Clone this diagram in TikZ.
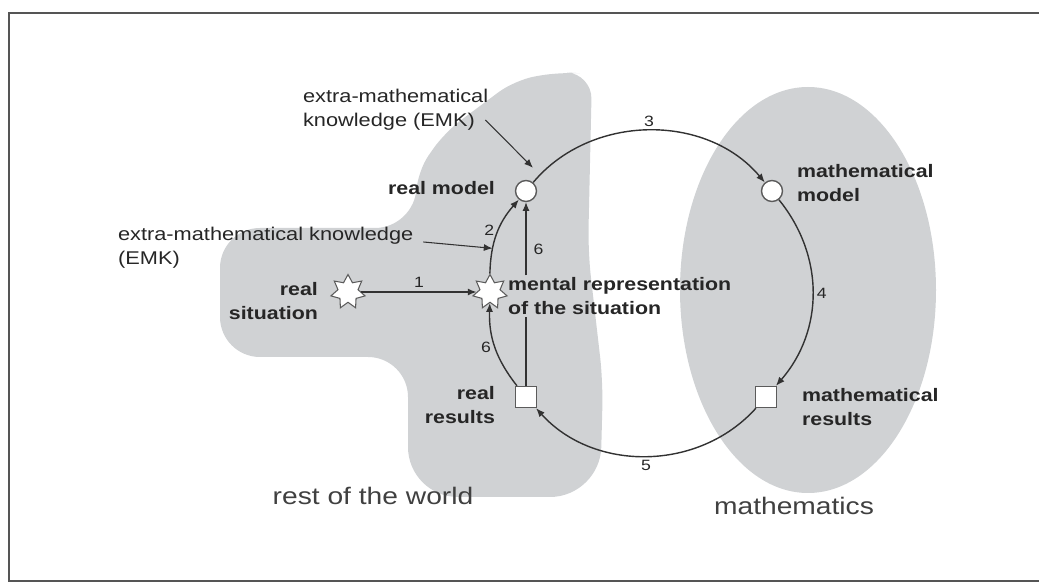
\documentclass[tikz,border=0pt]{standalone}
\usepackage{fontspec}
\setmainfont{Liberation Sans}[FakeStretch=1.18]
\usepackage{tikz}
\usetikzlibrary{shapes.geometric, arrows.meta, positioning, calc, backgrounds}
\definecolor{blobgray}{RGB}{208,210,212}
\definecolor{linegray}{RGB}{50,50,50}
\definecolor{framegray}{RGB}{85,85,85}

\begin{document}
\begin{tikzpicture}[
    x=0.02cm, y=0.02cm,
    dot/.style={circle, draw=linegray!80, fill=white, line width=0.8pt,
                minimum size=0.42cm, inner sep=0pt},
    sq/.style={rectangle, draw=linegray!80, fill=white, line width=0.8pt,
               minimum size=0.42cm, inner sep=0pt},
    burst/.style={star, star points=7, star point ratio=1.7, draw=linegray!80,
                  fill=white, line width=0.6pt, minimum size=0.7cm, inner sep=0pt},
    lab/.style={font=\bfseries\fontsize{10.3}{13.5}\selectfont, text=black!85, inner sep=1pt},
    txt/.style={font=\fontsize{10.5}{13.5}\selectfont, text=black!85, inner sep=1pt, align=left},
    big/.style={font=\fontsize{13.6}{16}\selectfont, text=black!75},
    num/.style={font=\fontsize{8.5}{10}\selectfont, text=black!85, inner sep=2pt},
    arr/.style={-{Latex[length=5pt,width=4pt]}, line width=0.8pt, draw=linegray},
    thinarr/.style={-{Latex[length=5pt,width=4pt]}, line width=0.6pt, draw=linegray},
  ]
  \useasboundingbox (0,0) rectangle (1039,582);

  %% -- frame ------------------------------------------------------------
  \draw[framegray, line width=1.6pt] (1039,569) -- (9,569) -- (9,1) -- (1039,1);

  %% -- the two regions --------------------------------------------------
  \fill[blobgray]
    (560,510) [rounded corners=0.5cm] -- (592,508) -- (588,330) -- (603,200)
    [rounded corners=1cm] -- (600,85) -- (408,85)
    [rounded corners=0.8cm] -- (408,225) -- (220,225) -- (220,354) -- (415,354)
    [rounded corners=0.4cm] -- (417,410) -- (445,450) -- (515,502) -- cycle;
  \fill[blobgray] (808,292) ellipse [x radius=128, y radius=203];

  %% -- stations of the cycle -------------------------------------------
  \node[dot]   (realmodel) at (526,391) {};
  \node[dot]   (mathmodel) at (772,391) {};
  \node[sq]    (realres)   at (526,185) {};
  \node[sq]    (mathres)   at (766,185) {};
  \node[burst] (mental)    at (490,290) {};
  \node[burst] (realsit)   at (348,290) {};

  %% -- labels -----------------------------------------------------------
  \node[lab, anchor=east] (realmodeltxt) at (497,394) {real model};
  \node[lab, anchor=east, align=right] (realsittxt) at (320,281) {real\\situation};
  \node[lab, anchor=west, align=left] (mentaltxt) at (506,286) {mental representation\\of the situation};
  \node[lab, anchor=east, align=right] (realrestxt) at (497,177) {real\\results};
  \node[lab, anchor=west, align=left] (mathmodeltxt) at (795,399) {mathematical\\model};
  \node[lab, anchor=west, align=left] (mathrestxt) at (800,175) {mathematical\\results};
  \node[txt, anchor=west] (emkA) at (301,472) {extra-mathematical\\knowledge (EMK)};
  \node[txt, anchor=west] (emkB) at (116,334) {extra-mathematical knowledge\\(EMK)};
  \node[big] (world) at (373,86) {rest of the world};
  \node[big] (maths) at (794,76) {mathematics};

  %% -- cycle arrows -----------------------------------------------------
  \draw[arr] (realsit) -- node[above, num] {1} (mental);
  \draw[arr] (mental) to[bend left=20]
      coordinate[pos=0.3] (onarc)
      node[pos=0.55, left, num] {2} (realmodel);
  \draw[arr] (realmodel) to[bend left=50] node[above, num] {3} (mathmodel);
  \draw[arr] (mathmodel) to[bend left=40] node[right, num] {4} (mathres);
  \draw[arr] (mathres) to[bend left=48] node[below, num] {5} (realres);
  \draw[arr] (realres) to[bend left=20] node[left, num] {6} (mental);

  %% -- direct way back (hidden behind the label) ------------------------
  \draw[linegray, line width=0.6pt] (realres) -- (realres |- mentaltxt.south);
  \draw[thinarr] (realres |- mentaltxt.north)
      -- node[right=2pt, num, pos=0.36] {6} (realmodel);

  %% -- extra-mathematical knowledge -------------------------------------
  \draw[thinarr] ($(emkA.east)+(-5,-10)$) -- ($(realmodel.north)+(7,12)$);
  \draw[thinarr] ($(emkB.east)+(8,6)$) -- (onarc);

\end{tikzpicture}
\end{document}
